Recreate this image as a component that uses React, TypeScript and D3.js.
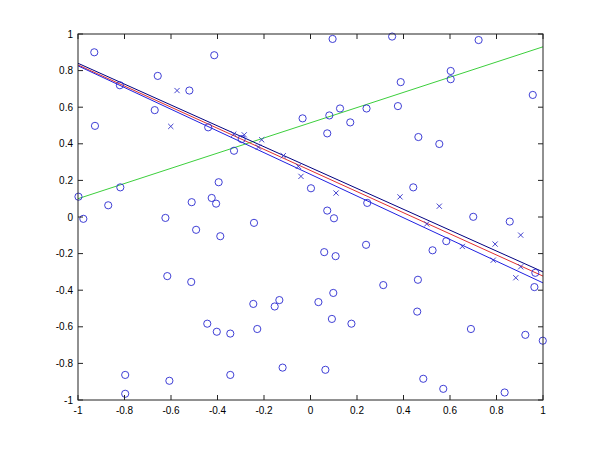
import React from 'react';
import * as d3 from 'd3';

// circles (class o)
const circleX = [
  -0.93, -0.82, -0.657, -0.521, -0.67, -0.927, -0.998, -0.818, -0.87, -0.511,
  -0.977, -0.624, -0.414, -0.44, -0.034, -0.296, -0.329, 0.002, -0.395, -0.425,
  -0.406, 0.095, 0.351, 0.388, 0.127, 0.241, 0.376, 0.081, 0.171, 0.072,
  0.464, 0.442, 0.244, 0.072, 0.101, 0.723, 0.603, 0.603, 0.956, 0.554,
  0.7, 0.857, -0.492, -0.616, -0.513, -0.797, -0.607, -0.797, -0.388, -0.243,
  -0.246, -0.154, -0.134, -0.444, -0.403, -0.345, -0.229, -0.12, -0.345, 0.239,
  0.059, 0.108, 0.525, 0.313, 0.462, 0.098, 0.034, 0.459, 0.092, 0.176,
  0.064, 0.485, 0.584, 0.967, 0.963, 0.69, 0.924, 0.999, 0.571, 0.835,
];
const circleY = [
  0.9, 0.72, 0.771, 0.691, 0.584, 0.498, 0.111, 0.162, 0.064, 0.081,
  -0.01, -0.005, 0.884, 0.49, 0.539, 0.426, 0.362, 0.157, 0.19, 0.104,
  0.073, 0.973, 0.986, 0.737, 0.593, 0.593, 0.606, 0.555, 0.517, 0.457,
  0.437, 0.162, 0.077, 0.035, -0.007, 0.967, 0.798, 0.753, 0.667, 0.399,
  0.001, -0.025, -0.07, -0.323, -0.355, -0.863, -0.895, -0.966, -0.105, -0.032,
  -0.475, -0.489, -0.454, -0.583, -0.627, -0.637, -0.612, -0.823, -0.863, -0.152,
  -0.192, -0.214, -0.182, -0.372, -0.343, -0.415, -0.465, -0.517, -0.557, -0.583,
  -0.835, -0.884, -0.132, -0.305, -0.383, -0.612, -0.644, -0.676, -0.939, -0.959,
];

// crosses (class x)
const crossX = [
  -0.574, -0.601, -0.33, -0.285, -0.21, -0.224, -0.117, -0.052, -0.041, 0.11,
  0.385, 0.554, 0.5, 0.904, 0.653, 0.794, 0.786, 0.904, 0.883,
];
const crossY = [
  0.691, 0.495, 0.453, 0.449, 0.422, 0.382, 0.335, 0.277, 0.222, 0.131,
  0.11, 0.059, -0.038, -0.099, -0.161, -0.148, -0.236, -0.272, -0.332,
];

// fitted lines: [y at x=-1, y at x=1]
const lineEndsX = [-1, 1];
const greenLine = [0.1, 0.93];
const upperLine = [0.84, -0.3];
const middleLine = [0.831, -0.323];
const lowerLine = [0.826, -0.36];

const xTicks = [-1, -0.8, -0.6, -0.4, -0.2, 0, 0.2, 0.4, 0.6, 0.8, 1];
const yTicks = [-1, -0.8, -0.6, -0.4, -0.2, 0, 0.2, 0.4, 0.6, 0.8, 1];

const W = 600;
const H = 450;
const margin = { left: 78, right: 57, top: 34, bottom: 50 };

export default function App() {
  const x = d3.scaleLinear().domain([-1, 1]).range([margin.left, W - margin.right]);
  const y = d3.scaleLinear().domain([-1, 1]).range([H - margin.bottom, margin.top]);
  const fmt = (v: number) => (v === 0 ? '0' : String(+v.toFixed(1)));

  const line = d3
    .line<number>()
    .x((_, i) => x(lineEndsX[i]))
    .y((d) => y(d));

  const axisColor = '#222';
  const tickLen = 5;
  const x0 = x(-1), x1 = x(1), y0 = y(-1), y1 = y(1);

  return (
    <svg
      width={W}
      height={H}
      style={{ position: 'absolute', left: 0, top: 0, background: '#fff' }}
      fontFamily="'Liberation Sans', Arial, sans-serif"
      fontSize={10}
    >
      <rect x={0} y={0} width={W} height={H} fill="#fff" />

      {/* lines */}
      <path d={line(greenLine) || ''} fill="none" stroke="#3ccf3c" strokeWidth={1} />
      <path d={line(upperLine) || ''} fill="none" stroke="#000080" strokeWidth={1} />
      <path d={line(middleLine) || ''} fill="none" stroke="#e03030" strokeWidth={1} />
      <path d={line(lowerLine) || ''} fill="none" stroke="#2020e0" strokeWidth={1} />

      {/* circles */}
      {circleX.map((cx, i) => (
        <circle key={'c' + i} cx={x(cx)} cy={y(circleY[i])} r={3.6} fill="none" stroke="#2a2ad0" strokeWidth={0.9} />
      ))}

      {/* crosses */}
      {crossX.map((cx, i) => {
        const px = x(cx), py = y(crossY[i]), s = 2.6;
        return (
          <path
            key={'x' + i}
            d={`M${px - s},${py - s}L${px + s},${py + s}M${px - s},${py + s}L${px + s},${py - s}`}
            stroke="#3030c8"
            strokeWidth={0.9}
          />
        );
      })}

      {/* axes box */}
      <rect x={x0} y={y1} width={x1 - x0} height={y0 - y1} fill="none" stroke={axisColor} strokeWidth={1} />

      {xTicks.map((t) => (
        <g key={'xt' + t}>
          <line x1={x(t)} x2={x(t)} y1={y0} y2={y0 - tickLen} stroke={axisColor} />
          <line x1={x(t)} x2={x(t)} y1={y1} y2={y1 + tickLen} stroke={axisColor} />
          <text x={x(t)} y={y0 + 14} textAnchor="middle" fill="#000">
            {fmt(t)}
          </text>
        </g>
      ))}
      {yTicks.map((t) => (
        <g key={'yt' + t}>
          <line x1={x0} x2={x0 + tickLen} y1={y(t)} y2={y(t)} stroke={axisColor} />
          <line x1={x1} x2={x1 - tickLen} y1={y(t)} y2={y(t)} stroke={axisColor} />
          <text x={x0 - 5} y={y(t) + 3.5} textAnchor="end" fill="#000">
            {fmt(t)}
          </text>
        </g>
      ))}
    </svg>
  );
}
